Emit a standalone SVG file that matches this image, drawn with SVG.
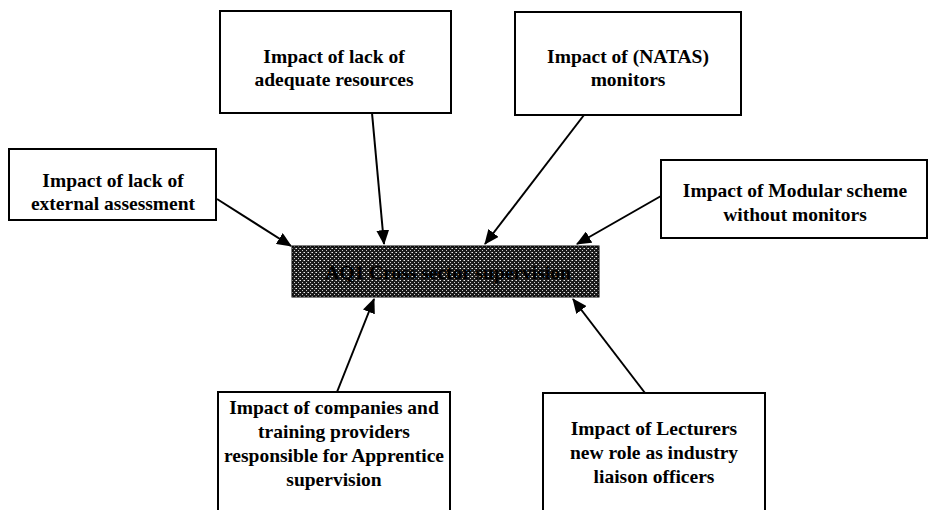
<svg xmlns="http://www.w3.org/2000/svg" width="930" height="510" viewBox="0 0 930 510">
<style>
.box{fill:#fff;stroke:#000;stroke-width:2}
.t{font-family:"Liberation Serif","Times New Roman",serif;font-size:19.5px;font-weight:bold;fill:#000;text-anchor:middle}
.c{stroke:#000;stroke-width:2;fill:none;marker-end:url(#ah)}
</style>
<defs>
<marker id="ah" viewBox="0 0 14 12" refX="13" refY="6" markerWidth="15" markerHeight="13" markerUnits="userSpaceOnUse" orient="auto">
<path d="M0,0 L14,6 L0,12 z" fill="#000"/>
</marker>
<pattern id="hatch" width="4" height="4" patternUnits="userSpaceOnUse">
<rect width="4" height="4" fill="#1a1a1a"/>
<rect x="0" y="0" width="1" height="1" fill="#eee"/>
<rect x="2" y="2" width="1" height="1" fill="#ccc"/>
<rect x="3" y="0" width="1" height="1" fill="#888"/>
</pattern>
</defs>
<rect width="930" height="510" fill="#fff"/>
<g id="connectors">
<line class="c" x1="217" y1="199" x2="291" y2="246"/>
<line class="c" x1="372" y1="113" x2="384" y2="244"/>
<line class="c" x1="584" y1="115" x2="485" y2="244"/>
<line class="c" x1="661" y1="196" x2="577" y2="244"/>
<line class="c" x1="337" y1="392" x2="374" y2="299"/>
<line class="c" x1="645" y1="393" x2="573" y2="299"/>
</g>
<g id="center">
<rect x="292" y="246" width="307" height="51" fill="url(#hatch)" stroke="#000" stroke-width="1"/>
<text class="t" x="448" y="279">AQ1 Cross sector supervision</text>
</g>
<g id="n-left">
<rect class="box" x="9" y="149" width="207" height="71"/>
<text class="t" x="113" y="187">Impact of lack of</text>
<text class="t" x="113" y="210">external assessment</text>
</g>
<g id="n-top">
<rect class="box" x="220" y="11" width="231" height="102"/>
<text class="t" x="334" y="63">Impact of lack of</text>
<text class="t" x="334" y="86">adequate resources</text>
</g>
<g id="n-natas">
<rect class="box" x="515" y="12" width="226" height="103"/>
<text class="t" x="628" y="63">Impact of (NATAS)</text>
<text class="t" x="628" y="86">monitors</text>
</g>
<g id="n-right">
<rect class="box" x="661" y="160" width="266" height="78"/>
<text class="t" x="795" y="197">Impact of Modular scheme</text>
<text class="t" x="795" y="221">without monitors</text>
</g>
<g id="n-bl">
<rect class="box" x="218" y="392" width="232" height="130"/>
<text class="t" x="334" y="414">Impact of companies and</text>
<text class="t" x="334" y="438">training providers</text>
<text class="t" x="334" y="462">responsible for Apprentice</text>
<text class="t" x="334" y="486">supervision</text>
</g>
<g id="n-br">
<rect class="box" x="543" y="393" width="222" height="130"/>
<text class="t" x="654" y="435">Impact of Lecturers</text>
<text class="t" x="654" y="459">new role as industry</text>
<text class="t" x="654" y="483">liaison officers</text>
</g>
</svg>
